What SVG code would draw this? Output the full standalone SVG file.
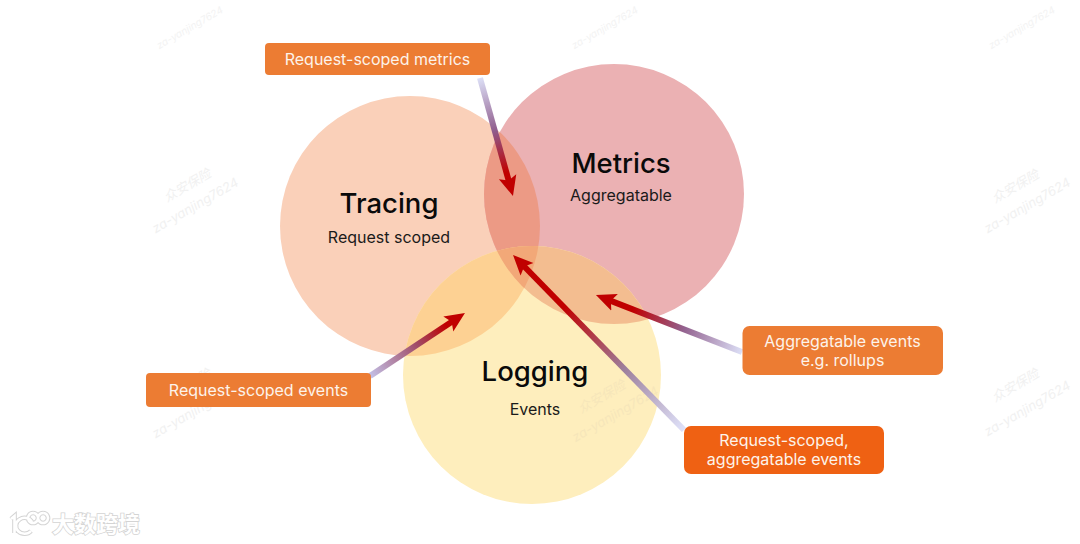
<svg xmlns="http://www.w3.org/2000/svg" width="1080" height="544" viewBox="0 0 1080 544">
<style>
text{font-family:Inter,"Liberation Sans","Noto Sans CJK SC",sans-serif;text-anchor:middle}
.title{font-size:27.500px;font-weight:500;fill:#0a0a0a}
.sub{font-size:16px;fill:#1a1a1a}
.lbl{font-size:16px;fill:#fdf3ea}
.box{fill:#ec7c33}
.hot{fill:#ef6113}
.arrow{fill:none;stroke-width:6}
.wm{font-size:13px;fill:#f1f1f1;font-style:italic}
.wmt{font-size:10px;fill:#f3f3f3;font-style:italic}
.logo{font-size:22px;font-weight:700;fill:#fff;stroke:#d4d4d4;stroke-width:1.6;paint-order:stroke}
.logoi{fill:none;stroke:#d4d4d4;stroke-width:4.600}
.logoj{fill:none;stroke:#fff;stroke-width:2.600}
</style>
<defs>
<clipPath id="cT"><circle cx="410" cy="226" r="130"/></clipPath>
<clipPath id="cM"><circle cx="614" cy="194" r="130"/></clipPath>
<marker id="head" markerUnits="userSpaceOnUse" markerWidth="22" markerHeight="22" refX="6" refY="11" orient="auto"><path d="M0 2L20 11L0 20L4 11Z" fill="#c00000"/></marker>
<linearGradient id="g1" gradientUnits="userSpaceOnUse" x1="480" y1="78" x2="513" y2="196"><stop offset="0" stop-color="#dcdff6"/><stop offset=".45" stop-color="#8f5c8c"/><stop offset=".8" stop-color="#c00000"/></linearGradient>
<linearGradient id="g2" gradientUnits="userSpaceOnUse" x1="370" y1="376" x2="465" y2="313"><stop offset="0" stop-color="#c3c0e6"/><stop offset=".5" stop-color="#a04a66"/><stop offset=".8" stop-color="#c00000"/></linearGradient>
<linearGradient id="g3" gradientUnits="userSpaceOnUse" x1="742" y1="352" x2="596" y2="295"><stop offset="0" stop-color="#dcdff6"/><stop offset=".4" stop-color="#93628f"/><stop offset=".75" stop-color="#c00000"/></linearGradient>
<linearGradient id="g4" gradientUnits="userSpaceOnUse" x1="684" y1="430" x2="513" y2="255"><stop offset="0" stop-color="#dfe2fa"/><stop offset=".35" stop-color="#9d7f9c"/><stop offset=".7" stop-color="#c00000"/></linearGradient>
</defs>
<rect width="1080" height="544" fill="#fff"/>
<g id="watermarks">
<g transform="rotate(-30 190 28)"><text class="wmt" x="190" y="31">za-yanjing7624</text></g>
<g transform="rotate(-30 605 28)"><text class="wmt" x="605" y="31">za-yanjing7624</text></g>
<g transform="rotate(-30 1022 28)"><text class="wmt" x="1022" y="31">za-yanjing7624</text></g>
<g transform="rotate(-30 187 185)"><text class="wm" x="187" y="190">众安保险</text></g>
<g transform="rotate(-30 195 205)"><text class="wm" x="195" y="210">za-yanjing7624</text></g>
<g transform="rotate(-30 1015 186)"><text class="wm" x="1015" y="191">众安保险</text></g>
<g transform="rotate(-30 1027 205)"><text class="wm" x="1027" y="210">za-yanjing7624</text></g>
<g transform="rotate(-30 1015 385)"><text class="wm" x="1015" y="390">众安保险</text></g>
<g transform="rotate(-30 1027 408)"><text class="wm" x="1027" y="413">za-yanjing7624</text></g>
<g transform="rotate(-30 187 385)"><text class="wm" x="187" y="390">众安保险</text></g>
<g transform="rotate(-30 195 410)"><text class="wm" x="195" y="415">za-yanjing7624</text></g>
</g>
<g id="node-tracing"><circle cx="410" cy="226" r="130" fill="#fad0b9"/></g>
<g id="node-metrics"><circle cx="614" cy="194" r="130" fill="#ebb1b3"/></g>
<g id="node-logging"><circle cx="532" cy="375" r="129" fill="#feeebd"/></g>
<g id="overlaps">
<g clip-path="url(#cT)"><circle cx="614" cy="194" r="130" fill="#ec9a85"/><circle cx="532" cy="375" r="129" fill="#fdd193"/></g>
<g clip-path="url(#cM)"><circle cx="532" cy="375" r="129" fill="#f3bd90"/></g>
<g clip-path="url(#cT)"><g clip-path="url(#cM)"><circle cx="532" cy="375" r="129" fill="#f2a878"/></g></g>
</g>
<g id="watermark-over"><g transform="rotate(-30 610 405)"><text class="wm" x="607" y="398" style="fill:#f6e6ba">众安保险</text><text class="wm" x="610" y="420" style="fill:#f6e6ba">za-yanjing7624</text></g></g>
<g id="connectors">
<path class="arrow" d="M480 78L509.200 182.500" stroke="url(#g1)" marker-end="url(#head)"/>
<path class="arrow" d="M370 376L453.300 320.700" stroke="url(#g2)" marker-end="url(#head)"/>
<path class="arrow" d="M742 352L609 300.100" stroke="url(#g3)" marker-end="url(#head)"/>
<path class="arrow" d="M684 430L522.800 265" stroke="url(#g4)" marker-end="url(#head)"/>
</g>
<g id="label-tracing"><text class="title" x="389" y="213">Tracing</text><text class="sub" x="389" y="243">Request scoped</text></g>
<g id="label-metrics"><text class="title" x="621" y="173">Metrics</text><text class="sub" x="621" y="201">Aggregatable</text></g>
<g id="label-logging"><text class="title" x="535" y="381">Logging</text><text class="sub" x="535" y="415">Events</text></g>
<g id="box-request-metrics"><rect class="box" x="265" y="43" width="225" height="32" rx="4"/><text class="lbl" x="377.500" y="65">Request-scoped metrics</text></g>
<g id="box-request-events"><rect class="box" x="146" y="373" width="225" height="34" rx="4"/><text class="lbl" x="258.500" y="396">Request-scoped events</text></g>
<g id="box-aggregatable"><rect class="box" x="742.500" y="326" width="200.500" height="49" rx="7"/><text class="lbl" x="842.500" y="347">Aggregatable events</text><text class="lbl" x="842.500" y="366">e.g. rollups</text></g>
<g id="box-both"><rect class="hot" x="684" y="426" width="200" height="48" rx="7"/><text class="lbl" x="784" y="446">Request-scoped,</text><text class="lbl" x="784" y="465">aggregatable events</text></g>
<g id="logo">
<path class="logoi" d="M11 519L14.500 516V533M32 522A8.500 8 0 1 0 31 531M33 513a5 5 0 1 0 .1 0M43 513a5 5 0 1 0 .1 0"/>
<path class="logoj" d="M11 519L14.500 516V533M32 522A8.500 8 0 1 0 31 531M33 513a5 5 0 1 0 .1 0M43 513a5 5 0 1 0 .1 0"/>
<text class="logo" x="96" y="532">大数跨境</text>
</g>
</svg>
